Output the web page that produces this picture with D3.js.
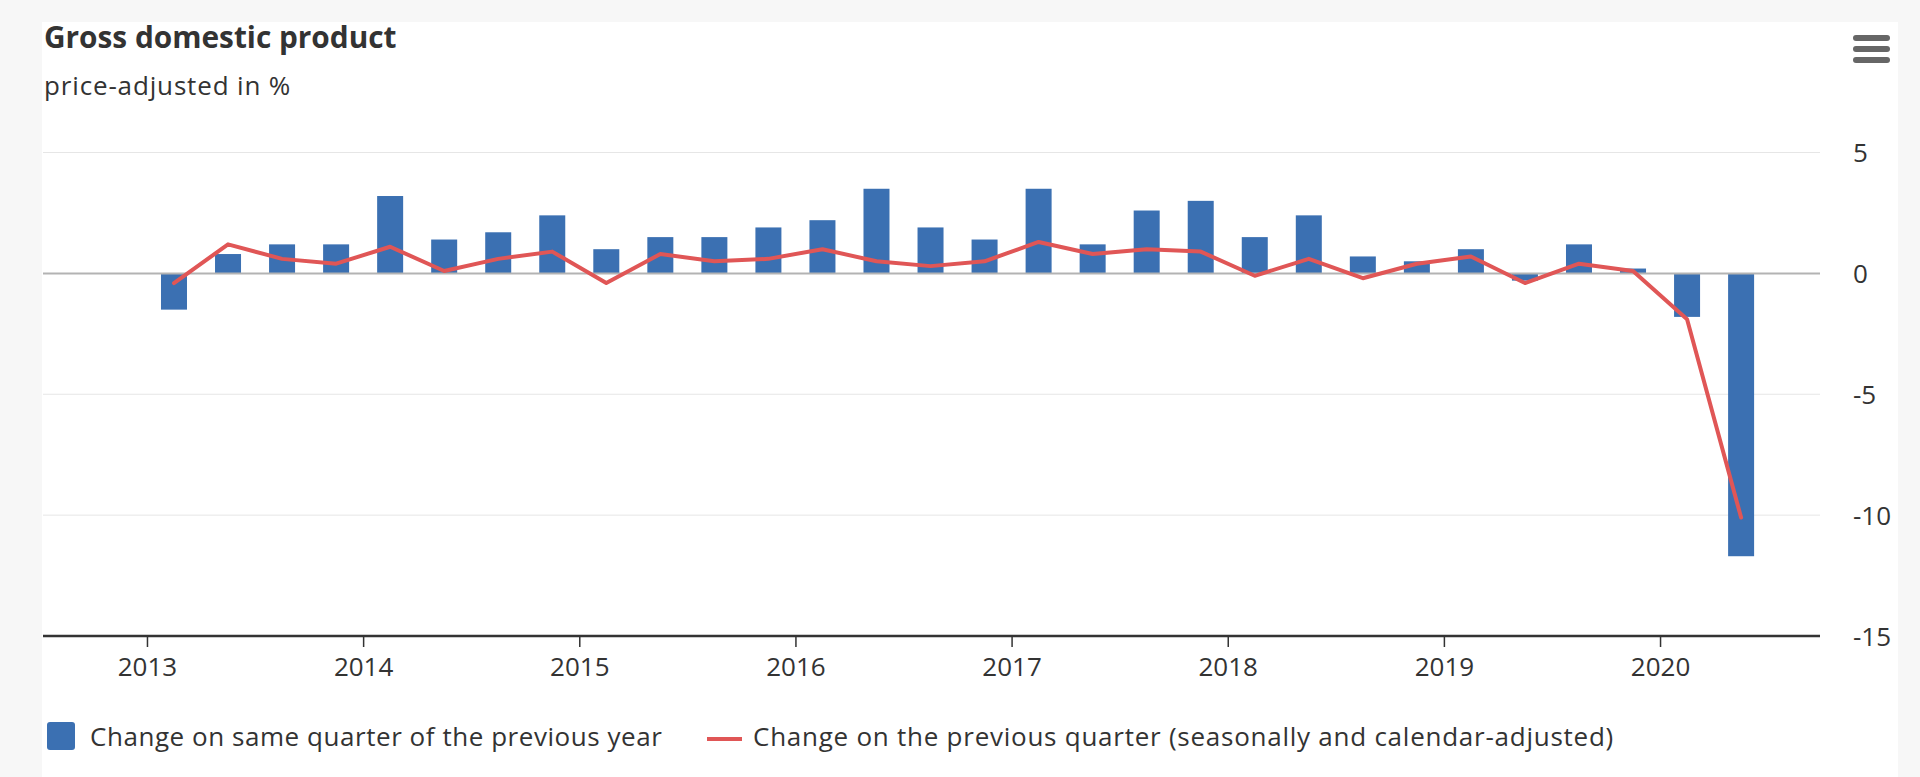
<!DOCTYPE html>
<html>
<head>
<meta charset="utf-8">
<script src="https://cdn.jsdelivr.net/npm/d3@7"></script>
<style>
  html, body { margin: 0; padding: 0; background: #f7f7f7; }
  svg { display: block; }
  text { font-family: "Open Sans", "Noto Sans", sans-serif; fill: #333; }
</style>
</head>
<body>
<svg id="chart" width="1920" height="777"></svg>
<script>
// ---- data ----
const quarters = [
  "2013 Q1","2013 Q2","2013 Q3","2013 Q4",
  "2014 Q1","2014 Q2","2014 Q3","2014 Q4",
  "2015 Q1","2015 Q2","2015 Q3","2015 Q4",
  "2016 Q1","2016 Q2","2016 Q3","2016 Q4",
  "2017 Q1","2017 Q2","2017 Q3","2017 Q4",
  "2018 Q1","2018 Q2","2018 Q3","2018 Q4",
  "2019 Q1","2019 Q2","2019 Q3","2019 Q4",
  "2020 Q1","2020 Q2"
];
const yoyChange = [
  -1.5, 0.8, 1.2, 1.2,
  3.2, 1.4, 1.7, 2.4,
  1.0, 1.5, 1.5, 1.9,
  2.2, 3.5, 1.9, 1.4,
  3.5, 1.2, 2.6, 3.0,
  1.5, 2.4, 0.7, 0.5,
  1.0, -0.3, 1.2, 0.2,
  -1.8, -11.7
];
const qoqChange = [
  -0.4, 1.2, 0.6, 0.4,
  1.1, 0.1, 0.6, 0.9,
  -0.4, 0.8, 0.5, 0.6,
  1.0, 0.5, 0.3, 0.5,
  1.3, 0.8, 1.0, 0.9,
  -0.1, 0.6, -0.2, 0.4,
  0.7, -0.4, 0.4, 0.1,
  -1.9, -10.1
];
const yearTicks = [2013, 2014, 2015, 2016, 2017, 2018, 2019, 2020];
const yTicks = [5, 0, -5, -10, -15];
const titleText = "Gross domestic product";
const subtitleText = "price-adjusted in %";
const legendLabels = [
  "Change on same quarter of the previous year",
  "Change on the previous quarter (seasonally and calendar-adjusted)"
];
const barColor = "#3b70b2";
const lineColor = "#e05656";

// ---- layout ----
const svg = d3.select("#chart");
const plotLeft = 43, plotRight = 1820, plotTop = 152.5, plotBottom = 636;
const FONT = "Open Sans, Noto Sans, sans-serif";

svg.append("rect").attr("x", 42).attr("y", 22).attr("width", 1856).attr("height", 755).attr("fill", "#fff");

const qPos = q => { const [yy, qq] = q.split(" Q"); return +yy + (+qq - 0.5) / 4; };

const x = d3.scaleLinear().domain([2012.519, 2020.74]).range([plotLeft, plotRight]);
const y = d3.scaleLinear().domain([-15, 5]).range([plotBottom, plotTop]);

// title
svg.append("text").attr("x", 44).attr("y", 48).attr("font-size", 29.8).attr("font-weight", 700).text(titleText);
svg.append("text").attr("x", 44).attr("y", 95).attr("font-size", 26).attr("letter-spacing", 0.85).text(subtitleText);

// menu icon
[38, 49, 60].forEach(cy => {
  svg.append("rect").attr("x", 1853).attr("y", cy - 3).attr("width", 37).attr("height", 6)
    .attr("rx", 3).attr("fill", "#666");
});

// grid lines
svg.append("g").selectAll("line").data(yTicks.filter(t => t !== 0 && t !== -15)).join("line")
  .attr("x1", plotLeft).attr("x2", plotRight)
  .attr("y1", d => y(d)).attr("y2", d => y(d))
  .attr("stroke", "#e6e6e6").attr("stroke-width", 1);

// y axis labels (right side)
const yAxis = d3.axisRight(y).tickValues(yTicks).tickSize(0).tickPadding(0).tickFormat(d => String(d));
const gy = svg.append("g").attr("transform", `translate(1853,0)`).call(yAxis);
gy.select(".domain").remove();
gy.selectAll("text").attr("font-size", 26).attr("fill", "#333").attr("font-family", FONT).attr("dy", "0.35em");

// bars
const barW = 26;
svg.append("g").selectAll("rect").data(quarters).join("rect")
  .attr("x", (d) => x(qPos(d)) - barW / 2)
  .attr("width", barW)
  .attr("y", (d, i) => Math.min(y(yoyChange[i]), y(0)))
  .attr("height", (d, i) => Math.abs(y(yoyChange[i]) - y(0)))
  .attr("fill", barColor);

// zero line
svg.append("line").attr("x1", plotLeft).attr("x2", plotRight).attr("y1", y(0)).attr("y2", y(0))
  .attr("stroke", "#b3b3b3").attr("stroke-width", 2);

// x axis
const xAxis = d3.axisBottom(x).tickValues(yearTicks).tickSize(11).tickPadding(11).tickFormat(d3.format("d"));
const gx = svg.append("g").attr("transform", `translate(0,${plotBottom})`).call(xAxis);
gx.select(".domain").attr("stroke", "#333").attr("stroke-width", 2.5).attr("d", `M${plotLeft},0H${plotRight}`);
gx.selectAll(".tick line").attr("stroke", "#333").attr("stroke-width", 1.5);
gx.selectAll("text").attr("font-size", 26).attr("fill", "#333").attr("font-family", FONT);

// line
const line = d3.line().x((d, i) => x(qPos(quarters[i]))).y(d => y(d));
svg.append("path").datum(qoqChange).attr("d", line)
  .attr("fill", "none").attr("stroke", lineColor).attr("stroke-width", 4)
  .attr("stroke-linejoin", "round").attr("stroke-linecap", "round");

// legend
const lg = svg.append("g");
lg.append("rect").attr("x", 47).attr("y", 722).attr("width", 28).attr("height", 28).attr("rx", 3).attr("fill", barColor);
lg.append("text").attr("x", 90).attr("y", 746).attr("font-size", 26).attr("letter-spacing", 0.55).text(legendLabels[0]);
lg.append("line").attr("x1", 707).attr("x2", 742).attr("y1", 739).attr("y2", 739)
  .attr("stroke", lineColor).attr("stroke-width", 4);
lg.append("text").attr("x", 753).attr("y", 746).attr("font-size", 26).attr("letter-spacing", 0.75).text(legendLabels[1]);
</script>
</body>
</html>
